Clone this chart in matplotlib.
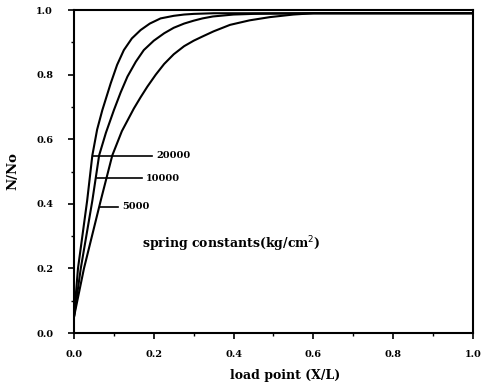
#!/usr/bin/env python3
# Load distribution N/No vs load point for three spring constants

import matplotlib
matplotlib.use('Agg')
import matplotlib.pyplot as plt
from matplotlib.ticker import MultipleLocator

# curve values
x_20000 = [0.0, 0.01, 0.033, 0.046, 0.058, 0.071, 0.092, 0.108, 0.125, 0.145, 0.167,
           0.19, 0.217, 0.25, 0.276, 0.30, 0.35, 0.5, 0.7, 1.0]
y_20000 = [0.05, 0.20, 0.41, 0.55, 0.63, 0.69, 0.773, 0.83, 0.876, 0.912, 0.938,
           0.958, 0.974, 0.982, 0.986, 0.988, 0.99, 0.99, 0.99, 0.99]

x_10000 = [0.0, 0.017, 0.046, 0.063, 0.08, 0.100, 0.117, 0.134, 0.155, 0.175, 0.20,
           0.226, 0.25, 0.276, 0.30, 0.322, 0.348, 0.40, 0.45, 0.6, 1.0]
y_10000 = [0.05, 0.20, 0.41, 0.55, 0.62, 0.69, 0.745, 0.794, 0.84, 0.876, 0.905,
           0.928, 0.945, 0.958, 0.967, 0.974, 0.980, 0.986, 0.988, 0.99, 0.99]

x_5000 = [0.0, 0.025, 0.067, 0.096, 0.12, 0.150, 0.167, 0.184, 0.205, 0.226, 0.25,
          0.276, 0.30, 0.322, 0.35, 0.391, 0.44, 0.491, 0.55, 0.60, 0.7, 1.0]
y_5000 = [0.05, 0.20, 0.41, 0.55, 0.625, 0.695, 0.73, 0.763, 0.80, 0.833, 0.863,
          0.888, 0.905, 0.918, 0.934, 0.954, 0.968, 0.978, 0.986, 0.99, 0.99, 0.99]

labels = ['20000', '10000', '5000']
label_y = [0.549, 0.479, 0.391]
leader_x0 = [0.048, 0.058, 0.064]
leader_x1 = [0.196, 0.170, 0.110]

FONT = 'DejaVu Serif'


def main():
    fig = plt.figure(figsize=(4.91, 3.85), dpi=100)
    ax = fig.add_axes([0.1507, 0.135, 0.8126, 0.839])

    for xs, ys in [(x_20000, y_20000), (x_10000, y_10000), (x_5000, y_5000)]:
        ax.plot(xs, ys, color='black', lw=1.5, solid_joinstyle='round')

    # leader lines with labels
    for lab, yv, x0, x1 in zip(labels, label_y, leader_x0, leader_x1):
        ax.plot([x0, x1], [yv, yv], color='black', lw=1.2)
        ax.text(x1 + 0.01, yv, lab, fontsize=7, fontweight='bold',
                family=FONT, va='center', ha='left')

    ax.text(0.17, 0.276, 'spring constants(kg/cm$^{2}$)', fontsize=9,
            fontweight='bold', family=FONT, va='center', ha='left')

    ax.set_xlim(0, 1.0)
    ax.set_ylim(0, 1.0)
    ax.xaxis.set_major_locator(MultipleLocator(0.2))
    ax.yaxis.set_major_locator(MultipleLocator(0.2))
    ax.xaxis.set_minor_locator(MultipleLocator(0.1))
    ax.yaxis.set_minor_locator(MultipleLocator(0.1))
    ax.tick_params(which='major', direction='out', length=4, width=1.2,
                   labelsize=7, pad=8)
    ax.tick_params(axis='y', which='major', pad=11)
    ax.tick_params(which='minor', direction='out', length=2, width=1.0)
    for lab in ax.get_xticklabels() + ax.get_yticklabels():
        lab.set_family(FONT)
        lab.set_fontweight('bold')

    for sp in ax.spines.values():
        sp.set_linewidth(1.5)

    ax.set_xlabel('load point (X/L)', fontsize=9, fontweight='bold',
                  family=FONT, labelpad=9)
    ax.xaxis.set_label_coords(0.53, -0.11)
    ax.set_ylabel('N/No', fontsize=9.5, fontweight='bold', family=FONT,
                  labelpad=12)

    fig.savefig('out.png', dpi=100)


if __name__ == "__main__":
    main()
